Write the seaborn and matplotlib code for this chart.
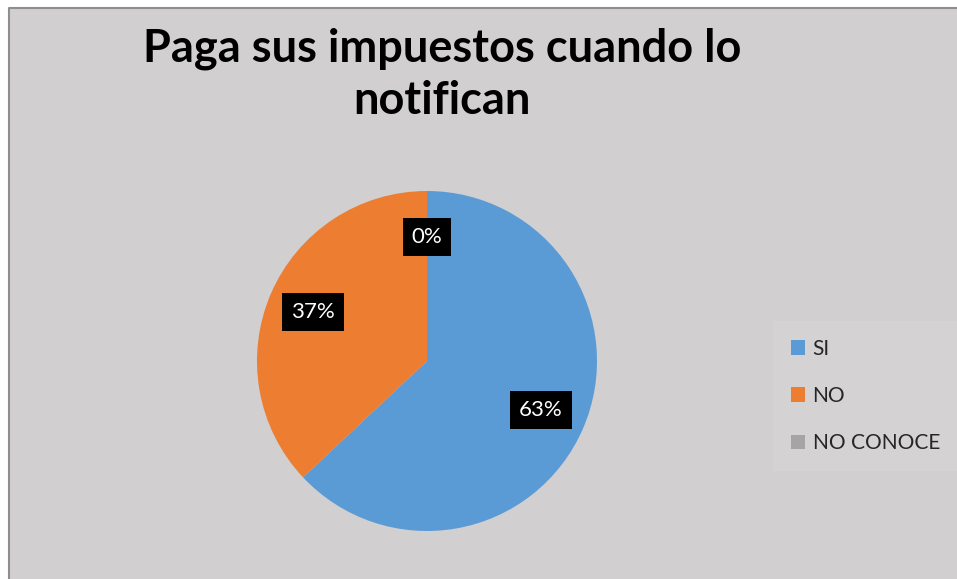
import matplotlib
matplotlib.use("Agg")
import matplotlib.pyplot as plt
from matplotlib.patches import Rectangle
from matplotlib.lines import Line2D
import seaborn as sns

# datos
categorias = ["SI", "NO", "NO CONOCE"]
porcentajes = [63, 37, 0]
colores = ["#5b9bd5", "#ed7d31", "#a5a5a5"]
titulo = "Paga sus impuestos cuando lo\nnotifican"

sns.set_style("white")
plt.rcParams["font.family"] = ["Lato", "DejaVu Sans"]
palette = sns.color_palette(colores)

W, H = 957, 579
fig = plt.figure(figsize=(W / 100, H / 100), dpi=100, facecolor="white")

# fondo gris del area del grafico con borde arriba e izquierda
bg = "#d1cfd0"
fig.patches.append(Rectangle((9 / W, 0), 1, (H - 8) / H, transform=fig.transFigure,
                             facecolor=bg, edgecolor="none", zorder=-2))
fig.lines.append(Line2D([9 / W, 9 / W, 1], [0, (H - 8) / H, (H - 8) / H],
                        transform=fig.transFigure, color="#8e8e8e", lw=1.5, zorder=-1))

# ejes de la torta: centro (427, 361) px, radio 170 px
cx, cy, r = 427, 361, 170
ax = fig.add_axes([(cx - r) / W, (H - cy - r) / H, 2 * r / W, 2 * r / H])
ax.set_facecolor("none")

wedges, texts, autotexts = ax.pie(
    porcentajes,
    colors=palette,
    startangle=90,
    counterclock=False,
    autopct="%1.0f%%",
    pctdistance=0.73,
    wedgeprops=dict(linewidth=0),
    textprops=dict(color="white", fontsize=16),
)
for t in autotexts:
    t.set_bbox(dict(boxstyle="square,pad=0.4", facecolor="black", edgecolor="none"))
ax.set_xlim(-1, 1)
ax.set_ylim(-1, 1)
ax.set_aspect("equal")
ax.axis("off")

fig.text(442 / W, 1 - 75 / H, titulo, ha="center", va="center",
         fontsize=32.5, fontweight="bold", linespacing=1.3, color="black")

leg = fig.legend(wedges, categorias, loc="center left",
                 bbox_to_anchor=(773 / W, 1 - 396 / H),
                 fontsize=15, frameon=True, handlelength=0.7, handleheight=0.7,
                 handletextpad=0.35, labelspacing=1.3, borderpad=0.85,
                 borderaxespad=0,
                 facecolor="#d5d3d4", edgecolor="none", fancybox=False)

fig.savefig("out.png", dpi=100, facecolor="white")
